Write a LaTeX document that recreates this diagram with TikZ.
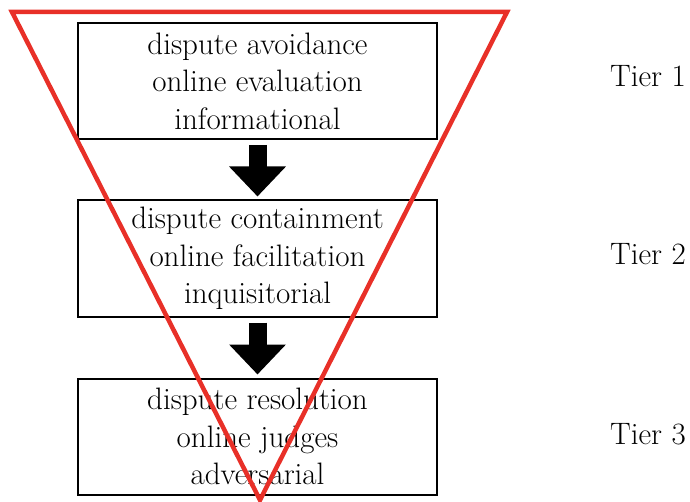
\documentclass[tikz,border=0pt]{standalone}
\usepackage{xcolor}
\usepackage{tikz}
\usetikzlibrary{positioning,arrows.meta}

\definecolor{tierred}{RGB}{232,48,40}

\begin{document}
\begin{tikzpicture}[x=1pt, y=-1pt,
        tierbox/.style={draw, line width=2pt, minimum width=359pt, minimum height=116pt,
            align=center, inner sep=0pt, font=\fontsize{31}{37.5}\selectfont},
        tierlabel/.style={font=\fontsize{31}{36}\selectfont},
        downarrow/.style={line width=18pt, -{Triangle[width=55pt, length=30pt]},
            shorten <=5pt, shorten >=3pt}]
            \useasboundingbox (0,0) rectangle (690,502);

            % Nodes
            \node (T1) [tierbox] at (257.5, 81) {dispute avoidance\\online evaluation\\informational};
            \node (T2) [tierbox] at (257.5, 258.5) {dispute containment\\online facilitation\\inquisitorial};
            \node (T3) [tierbox] at (257.5, 436.5) {dispute resolution\\online judges\\adversarial};
            \node (L1) [tierlabel] at (648, 76) {Tier 1};
            \node (L2) [tierlabel] at (648, 254) {Tier 2};
            \node (L3) [tierlabel] at (648, 434) {Tier 3};
            % Arrows
            \draw [downarrow] (T1.south) -- (T2.north);
            \draw [downarrow] (T2.south) -- (T3.north);
            % Triangle
            \coordinate (TL) at (12, 12);
            \coordinate (TR) at (507, 12);
            \coordinate (AP) at (260, 500);
            \draw [tierred, line width=4.5pt] (TL) -- (TR) -- (AP) -- cycle;
        \end{tikzpicture}
\end{document}
